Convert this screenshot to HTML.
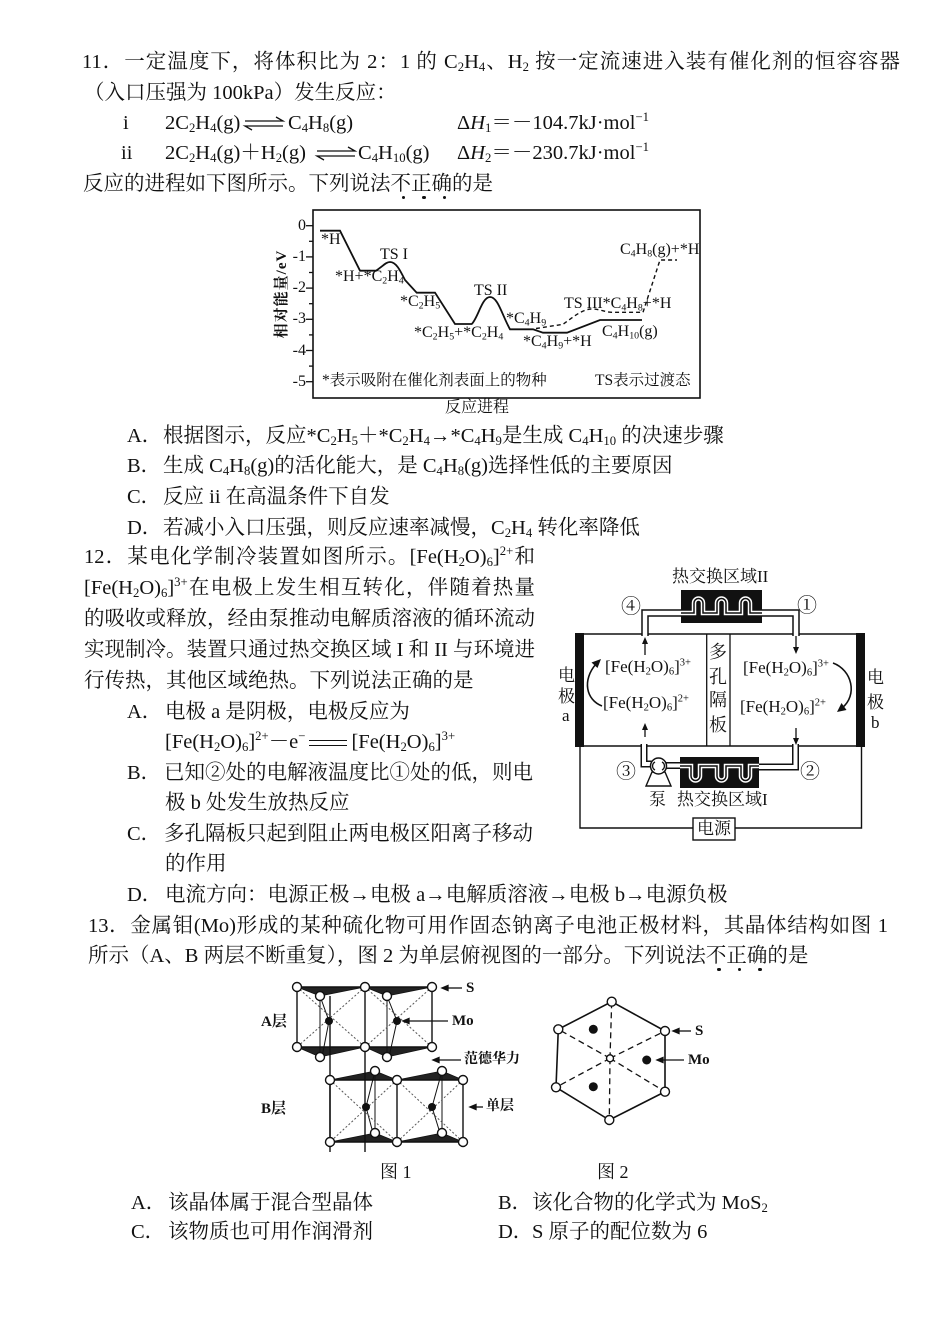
<!DOCTYPE html>
<html><head><meta charset="utf-8">
<style>
body{margin:0;width:950px;height:1344px;position:relative;background:#fff;overflow:hidden;color:#111;font-family:"Liberation Serif","Noto Serif CJK SC",serif;}
.l{position:absolute;height:30px;line-height:30px;white-space:nowrap;font-size:20.5px;}
.j{text-align:justify;text-align-last:justify;white-space:normal;overflow:visible;}
sub{font-size:0.62em;vertical-align:-0.25em;line-height:0;}
sup{font-size:0.62em;vertical-align:0.62em;line-height:0;}
.lb{position:absolute;white-space:nowrap;font-size:16px;line-height:16px;}
.el{position:absolute;white-space:nowrap;font-size:17px;line-height:18px;}
.cn{position:absolute;white-space:nowrap;font-size:20px;line-height:20px;}
.cr{position:absolute;white-space:nowrap;font-size:14px;line-height:16px;font-weight:bold;}
.em{position:relative;}
.em::after{content:"";position:absolute;left:50%;bottom:-4px;width:3.5px;height:3.5px;margin-left:1px;background:#111;border-radius:50%;}
.eq{display:inline-block;width:38px;height:4px;border-top:1.5px solid #111;border-bottom:1.5px solid #111;vertical-align:middle;margin:0 4px;}
.tk{position:absolute;width:22px;text-align:right;font-size:16px;line-height:16px;}
</style></head>
<body>
<svg width="950" height="1344" style="position:absolute;left:0;top:0" xmlns="http://www.w3.org/2000/svg">
<g stroke="#111" stroke-width="1.3" fill="none">
<path d="M245,121 H283 L276,117"/><path d="M283,126 H245 L252,130"/>
<path d="M317,151 H355 L348,147"/><path d="M355,156 H317 L324,160"/>
</g>
<rect x="313" y="210" width="387" height="188" fill="none" stroke="#111" stroke-width="1.6"/>
<g stroke="#111" stroke-width="1.3">
<line x1="306" y1="225.7" x2="313" y2="225.7"/><line x1="306" y1="256.9" x2="313" y2="256.9"/>
<line x1="306" y1="288.1" x2="313" y2="288.1"/><line x1="306" y1="319.3" x2="313" y2="319.3"/>
<line x1="306" y1="350.5" x2="313" y2="350.5"/><line x1="306" y1="381.7" x2="313" y2="381.7"/>
<line x1="309" y1="241.3" x2="313" y2="241.3"/><line x1="309" y1="272.5" x2="313" y2="272.5"/>
<line x1="309" y1="303.7" x2="313" y2="303.7"/><line x1="309" y1="334.9" x2="313" y2="334.9"/>
<line x1="309" y1="366.1" x2="313" y2="366.1"/>
</g>
<path d="M320,230.7 L340,230.7 L360,270.7 L376,270.7 C383,266 386,262 390,262 C396,262 400,270 405,280 L416.7,292.7 L435,292.7 L455,324 L471.7,324 C478,318 482,297 490,297 C498,297 502,315 510,329.3 L533,329.3 L543,332.7 L567,332.7 L600,320 L642,320" fill="none" stroke="#111" stroke-width="1.8"/>
<path d="M536,328.5 L563,324.3 C572,318 582,309 592,309 C600,309 605,312.3 612,312.3 L643,312.3 L660,260 L677,260" fill="none" stroke="#111" stroke-width="1.4" stroke-dasharray="4,3"/>
<rect x="580" y="634" width="281" height="112" fill="none" stroke="#111" stroke-width="1.5"/>
<line x1="706.7" y1="634" x2="706.7" y2="746" stroke="#111" stroke-width="1.3"/>
<line x1="730" y1="634" x2="730" y2="746" stroke="#111" stroke-width="1.3"/>
<rect x="575" y="633" width="9" height="114" fill="#111"/>
<rect x="856" y="633" width="9" height="114" fill="#111"/>
<path d="M580,747 V828 H693 M735,828 H861.5 V747" fill="none" stroke="#111" stroke-width="1.4"/>
<rect x="693" y="818" width="42" height="22" fill="#fff" stroke="#111" stroke-width="1.4"/>
<g fill="none" stroke-linejoin="miter">
<path d="M645,636 V613 H682" stroke="#111" stroke-width="7.5"/>
<path d="M645,636 V613 H682" stroke="#fff" stroke-width="4.5"/>
<path d="M761,613 H796 V636" stroke="#111" stroke-width="7.5"/>
<path d="M761,613 H796 V636" stroke="#fff" stroke-width="4.5"/>
<path d="M644,744 V764 H652" stroke="#111" stroke-width="7"/>
<path d="M644,744 V764 H652" stroke="#fff" stroke-width="4"/>
<path d="M665,765.5 H681" stroke="#111" stroke-width="7"/>
<path d="M665,765.5 H681" stroke="#fff" stroke-width="4"/>
<path d="M758,767 H795.5 V744" stroke="#111" stroke-width="7"/>
<path d="M758,767 H795.5 V744" stroke="#fff" stroke-width="4"/>
</g>
<rect x="681" y="590" width="81" height="33" fill="#111"/>
<path d="M681,613 H694 V603 a4.5,4.5 0 0 1 9,0 V613 H717 V603 a4.5,4.5 0 0 1 9,0 V613 H741 V603 a4.5,4.5 0 0 1 9,0 V613 H762" fill="none" stroke="#fff" stroke-width="4.5"/>
<path d="M681,613 H694 V603 a4.5,4.5 0 0 1 9,0 V613 H717 V603 a4.5,4.5 0 0 1 9,0 V613 H741 V603 a4.5,4.5 0 0 1 9,0 V613 H762" fill="none" stroke="#111" stroke-width="1.5"/>
<rect x="680" y="757" width="79" height="31" fill="#111"/>
<path d="M680,766 H691 V776 a4.5,4.5 0 0 0 9,0 V766 H717 V776 a4.5,4.5 0 0 0 9,0 V766 H741 V776 a4.5,4.5 0 0 0 9,0 V766 H759" fill="none" stroke="#fff" stroke-width="4.5"/>
<path d="M680,766 H691 V776 a4.5,4.5 0 0 0 9,0 V766 H717 V776 a4.5,4.5 0 0 0 9,0 V766 H741 V776 a4.5,4.5 0 0 0 9,0 V766 H759" fill="none" stroke="#111" stroke-width="1.5"/>
<polygon points="652,772 646,786 671,786 665,772" fill="#fff" stroke="#111" stroke-width="1.4"/>
<circle cx="658.5" cy="766" r="8" fill="#fff" stroke="#111" stroke-width="1.5"/>
<path d="M655,762 A4.5,4.5 0 0 0 655,770 M662,762 A4.5,4.5 0 0 1 662,770" fill="none" stroke="#111" stroke-width="1.3"/>
<g stroke="#111" stroke-width="1.3">
<line x1="645" y1="655" x2="645" y2="641"/><line x1="645" y1="737" x2="645" y2="728"/>
<line x1="796" y1="636" x2="796" y2="650"/><line x1="796" y1="728" x2="796" y2="740"/>
</g>
<g fill="#111">
<polygon points="645,637 642,644 648,644"/><polygon points="645,723 642,730 648,730"/>
<polygon points="796,654 793,647 799,647"/><polygon points="796,745 793,738 799,738"/>
</g>
<path d="M602,706 C586,700 582,680 596,664" fill="none" stroke="#111" stroke-width="1.6"/>
<polygon points="601,659 597.5,668 591.5,662.5" fill="#111"/>
<path d="M833,663 C852,670 858,695 842,708" fill="none" stroke="#111" stroke-width="1.6"/>
<polygon points="837,712 846.5,710 841.5,703" fill="#111"/>
<g fill="#222" stroke="#111" stroke-width="0.8">
<polygon points="297,987 320,996 365,987"/><polygon points="365,987 387,996 432,987"/>
<polygon points="297,1047 320,1057 365,1047"/><polygon points="365,1047 387,1057 432,1047"/>
<polygon points="330,1080 375,1071 397,1080"/><polygon points="397,1080 442,1071 463,1080"/>
<polygon points="330,1142 375,1133 397,1142"/><polygon points="397,1142 442,1133 463,1142"/>
</g>
<g stroke="#111" stroke-width="1.4" fill="none">
<path d="M297,987 H432 M297,1047 H432 M297,987 V1047 M365,987 V1047 M432,987 V1047"/>
<path d="M330,1080 H463 M330,1142 H463 M330,1080 V1142 M397,1080 V1142 M463,1080 V1142"/>
<path d="M330,996 V1152 M365,1047 V1152"/>
</g>
<g stroke="#111" stroke-width="1" fill="none">
<path d="M320,996 V1057 M387,996 V1057 M375,1071 V1133 M442,1071 V1133"/>
<path d="M320,996 L329,1021 L322,1057 M387,996 L397,1021 L389,1057"/>
<path d="M375,1071 L366,1107 L373,1133 M442,1071 L432,1107 L440,1133"/>
</g>
<g stroke="#555" stroke-width="1" stroke-dasharray="2,2" fill="none">
<path d="M297,987 L365,1047 M365,987 L297,1047 M365,987 L432,1047 M432,987 L365,1047"/>
<path d="M330,1080 L397,1142 M397,1080 L330,1142 M397,1080 L463,1142 M463,1080 L397,1142"/>
</g>
<g fill="#fff" stroke="#111" stroke-width="1.4">
<circle cx="297" cy="987" r="4.5"/><circle cx="365" cy="987" r="4.5"/><circle cx="432" cy="987" r="4.5"/>
<circle cx="320" cy="996" r="4.5"/><circle cx="387" cy="996" r="4.5"/>
<circle cx="297" cy="1047" r="4.5"/><circle cx="365" cy="1047" r="4.5"/><circle cx="432" cy="1047" r="4.5"/>
<circle cx="320" cy="1057" r="4.5"/><circle cx="387" cy="1057" r="4.5"/>
<circle cx="330" cy="1080" r="4.5"/><circle cx="397" cy="1080" r="4.5"/><circle cx="463" cy="1080" r="4.5"/>
<circle cx="375" cy="1071" r="4.5"/><circle cx="442" cy="1071" r="4.5"/>
<circle cx="330" cy="1142" r="4.5"/><circle cx="397" cy="1142" r="4.5"/><circle cx="463" cy="1142" r="4.5"/>
<circle cx="375" cy="1133" r="4.5"/><circle cx="442" cy="1133" r="4.5"/>
</g>
<g fill="#111">
<circle cx="329" cy="1021" r="4"/><circle cx="397" cy="1021" r="4"/>
<circle cx="366" cy="1107" r="4"/><circle cx="432" cy="1107" r="4"/>
</g>
<g stroke="#111" stroke-width="1.3" fill="#111">
<line x1="446" y1="988" x2="462" y2="988"/><polygon points="442,988 448,985.5 448,990.5"/>
<line x1="407" y1="1021" x2="448" y2="1021"/><polygon points="403,1021 409,1018.5 409,1023.5"/>
<line x1="437" y1="1060" x2="461" y2="1060"/><polygon points="433,1060 439,1057.5 439,1062.5"/>
<line x1="474" y1="1107" x2="483" y2="1107"/><polygon points="470,1107 476,1104.5 476,1109.5"/>
<line x1="677" y1="1031" x2="691" y2="1031"/><polygon points="673,1031 679,1028.5 679,1033.5"/>
<line x1="661" y1="1060" x2="684" y2="1060"/><polygon points="657,1060 663,1057.5 663,1062.5"/>
</g>
<polygon points="611.7,1001.7 665,1031 665,1091.7 609.3,1120 556,1087.3 558.3,1029.3" fill="none" stroke="#111" stroke-width="1.6"/>
<g stroke="#111" stroke-width="1.3" stroke-dasharray="6,4">
<line x1="610" y1="1058.3" x2="611.7" y2="1001.7"/><line x1="610" y1="1058.3" x2="665" y2="1031"/>
<line x1="610" y1="1058.3" x2="665" y2="1091.7"/><line x1="610" y1="1058.3" x2="609.3" y2="1120"/>
<line x1="610" y1="1058.3" x2="556" y2="1087.3"/><line x1="610" y1="1058.3" x2="558.3" y2="1029.3"/>
</g>
<g fill="#fff" stroke="#111" stroke-width="1.4">
<circle cx="611.7" cy="1001.7" r="4.5"/><circle cx="665" cy="1031" r="4.5"/><circle cx="665" cy="1091.7" r="4.5"/>
<circle cx="609.3" cy="1120" r="4.5"/><circle cx="556" cy="1087.3" r="4.5"/><circle cx="558.3" cy="1029.3" r="4.5"/>
<circle cx="610" cy="1058.3" r="3.5"/>
</g>
<g fill="#111">
<circle cx="593.3" cy="1029.3" r="4.5"/><circle cx="646.7" cy="1060" r="4.5"/><circle cx="593.3" cy="1086.7" r="4.5"/>
</g>
</svg>

<div class="l j" style="top:47px;left:82px;width:818px">11．一定温度下，将体积比为 2：1 的 C<sub>2</sub>H<sub>4</sub>、H<sub>2</sub> 按一定流速进入装有催化剂的恒容容器</div>
<div class="l" style="top:78px;left:84px">（入口压强为 100kPa）发生反应：</div>
<div class="l" style="top:108px;left:123px">i</div>
<div class="l" style="top:108px;left:165px">2C<sub>2</sub>H<sub>4</sub>(g)</div>
<div class="l" style="top:108px;left:288px">C<sub>4</sub>H<sub>8</sub>(g)</div>
<div class="l" style="top:108px;left:457px">Δ<i>H</i><sub>1</sub>＝－104.7kJ·mol<sup>−1</sup></div>
<div class="l" style="top:138px;left:121px">ii</div>
<div class="l" style="top:138px;left:165px">2C<sub>2</sub>H<sub>4</sub>(g)＋H<sub>2</sub>(g)</div>
<div class="l" style="top:138px;left:358px">C<sub>4</sub>H<sub>10</sub>(g)</div>
<div class="l" style="top:138px;left:457px">Δ<i>H</i><sub>2</sub>＝－230.7kJ·mol<sup>−1</sup></div>
<div class="l" style="top:169px;left:83px">反应的进程如下图所示。下列说法<span class="em">不</span><span class="em">正</span><span class="em">确</span>的是</div>

<div class="tk" style="left:284px;top:218px">0</div>
<div class="tk" style="left:284px;top:249px">-1</div>
<div class="tk" style="left:284px;top:280px">-2</div>
<div class="tk" style="left:284px;top:311px">-3</div>
<div class="tk" style="left:284px;top:343px">-4</div>
<div class="tk" style="left:284px;top:374px">-5</div>
<div class="lb" style="left:282px;top:294px;transform:translate(-50%,-50%) rotate(-90deg);font-weight:bold;letter-spacing:1px;font-size:15px">相对能量/eV</div>
<div class="lb" style="left:321px;top:232px">*H</div>
<div class="lb" style="left:380px;top:247px">TS I</div>
<div class="lb" style="left:335px;top:269px">*H+*C<sub>2</sub>H<sub>4</sub></div>
<div class="lb" style="left:400px;top:294px">*C<sub>2</sub>H<sub>5</sub></div>
<div class="lb" style="left:474px;top:283px">TS II</div>
<div class="lb" style="left:414px;top:325px">*C<sub>2</sub>H<sub>5</sub>+*C<sub>2</sub>H<sub>4</sub></div>
<div class="lb" style="left:506px;top:311px">*C<sub>4</sub>H<sub>9</sub></div>
<div class="lb" style="left:523px;top:334px">*C<sub>4</sub>H<sub>9</sub>+*H</div>
<div class="lb" style="left:564px;top:296px">TS III*C<sub>4</sub>H<sub>8</sub>+*H</div>
<div class="lb" style="left:620px;top:242px">C<sub>4</sub>H<sub>8</sub>(g)+*H</div>
<div class="lb" style="left:602px;top:324px">C<sub>4</sub>H<sub>10</sub>(g)</div>
<div class="lb" style="left:322px;top:373px;font-size:15.5px">*表示吸附在催化剂表面上的物种</div>
<div class="lb" style="left:595px;top:373px;font-size:15.5px">TS表示过渡态</div>
<div class="lb" style="left:445px;top:400px;font-size:16px">反应进程</div>

<div class="l" style="top:421px;left:127px">A．</div>
<div class="l" style="top:421px;left:163px">根据图示，反应*C<sub>2</sub>H<sub>5</sub>＋*C<sub>2</sub>H<sub>4</sub>→*C<sub>4</sub>H<sub>9</sub>是生成 C<sub>4</sub>H<sub>10</sub> 的决速步骤</div>
<div class="l" style="top:451px;left:127px">B．</div>
<div class="l" style="top:451px;left:163px">生成 C<sub>4</sub>H<sub>8</sub>(g)的活化能大，是 C<sub>4</sub>H<sub>8</sub>(g)选择性低的主要原因</div>
<div class="l" style="top:482px;left:127px">C．</div>
<div class="l" style="top:482px;left:163px">反应 ii 在高温条件下自发</div>
<div class="l" style="top:513px;left:127px">D．</div>
<div class="l" style="top:513px;left:163px">若减小入口压强，则反应速率减慢，C<sub>2</sub>H<sub>4</sub> 转化率降低</div>

<div class="l j" style="top:542px;left:84px;width:451px">12．某电化学制冷装置如图所示。[Fe(H<sub>2</sub>O)<sub>6</sub>]<sup>2+</sup>和</div>
<div class="l j" style="top:573px;left:84px;width:451px">[Fe(H<sub>2</sub>O)<sub>6</sub>]<sup>3+</sup>在电极上发生相互转化，伴随着热量</div>
<div class="l j" style="top:604px;left:84px;width:451px">的吸收或释放，经由泵推动电解质溶液的循环流动</div>
<div class="l j" style="top:635px;left:84px;width:451px">实现制冷。装置只通过热交换区域 I 和 II 与环境进</div>
<div class="l" style="top:666px;left:84px">行传热，其他区域绝热。下列说法正确的是</div>
<div class="l" style="top:697px;left:127px">A．</div>
<div class="l" style="top:697px;left:165px">电极 a 是阴极，电极反应为</div>
<div class="l" style="top:727px;left:165px">[Fe(H<sub>2</sub>O)<sub>6</sub>]<sup>2+</sup>－e<sup>−</sup><span class="eq"></span>[Fe(H<sub>2</sub>O)<sub>6</sub>]<sup>3+</sup></div>
<div class="l" style="top:758px;left:127px">B．</div>
<div class="l" style="top:758px;left:164px">已知②处的电解液温度比①处的低，则电</div>
<div class="l" style="top:788px;left:165px">极 b 处发生放热反应</div>
<div class="l" style="top:819px;left:127px">C．</div>
<div class="l" style="top:819px;left:164px">多孔隔板只起到阻止两电极区阳离子移动</div>
<div class="l" style="top:849px;left:165px">的作用</div>
<div class="l" style="top:880px;left:127px">D．</div>
<div class="l" style="top:880px;left:165px">电流方向：电源正极→电极 a→电解质溶液→电极 b→电源负极</div>

<div class="el" style="left:672px;top:568px">热交换区域II</div>
<div class="cn" style="left:621px;top:597px">④</div>
<div class="cn" style="left:797px;top:596px">①</div>
<div class="cn" style="left:616px;top:762px">③</div>
<div class="cn" style="left:800px;top:762px">②</div>
<div class="el" style="left:605px;top:658px">[Fe(H<sub>2</sub>O)<sub>6</sub>]<sup>3+</sup></div>
<div class="el" style="left:603px;top:694px">[Fe(H<sub>2</sub>O)<sub>6</sub>]<sup>2+</sup></div>
<div class="el" style="left:743px;top:659px">[Fe(H<sub>2</sub>O)<sub>6</sub>]<sup>3+</sup></div>
<div class="el" style="left:740px;top:698px">[Fe(H<sub>2</sub>O)<sub>6</sub>]<sup>2+</sup></div>
<div class="el" style="left:709px;top:643px;font-size:18px">多</div>
<div class="el" style="left:709px;top:668px;font-size:18px">孔</div>
<div class="el" style="left:709px;top:691px;font-size:18px">隔</div>
<div class="el" style="left:709px;top:716px;font-size:18px">板</div>
<div class="el" style="left:558px;top:667px">电</div>
<div class="el" style="left:558px;top:688px">极</div>
<div class="el" style="left:562px;top:707px">a</div>
<div class="el" style="left:867px;top:669px">电</div>
<div class="el" style="left:867px;top:694px">极</div>
<div class="el" style="left:871px;top:714px">b</div>
<div class="el" style="left:649px;top:791px">泵</div>
<div class="el" style="left:677px;top:791px">热交换区域I</div>
<div class="el" style="left:697px;top:820px">电源</div>

<div class="l j" style="top:911px;left:88px;width:800px">13．金属钼(Mo)形成的某种硫化物可用作固态钠离子电池正极材料，其晶体结构如图 1</div>
<div class="l" style="top:941px;left:88px">所示（A、B 两层不断重复），图 2 为单层俯视图的一部分。下列说法<span class="em">不</span><span class="em">正</span><span class="em">确</span>的是</div>

<div class="cr" style="left:261px;top:1014px;font-size:15px">A层</div>
<div class="cr" style="left:261px;top:1101px;font-size:15px">B层</div>
<div class="cr" style="left:466px;top:980px;font-size:15px">S</div>
<div class="cr" style="left:452px;top:1013px;font-size:15px">Mo</div>
<div class="cr" style="left:464px;top:1052px">范德华力</div>
<div class="cr" style="left:486px;top:1099px">单层</div>
<div class="cr" style="left:695px;top:1023px;font-size:15px">S</div>
<div class="cr" style="left:688px;top:1052px;font-size:15px">Mo</div>
<div class="el" style="left:380px;top:1163px;font-size:18px">图 1</div>
<div class="el" style="left:597px;top:1163px;font-size:18px">图 2</div>

<div class="l" style="top:1188px;left:131px">A．</div>
<div class="l" style="top:1188px;left:168px">该晶体属于混合型晶体</div>
<div class="l" style="top:1188px;left:498px">B．</div>
<div class="l" style="top:1188px;left:532px">该化合物的化学式为 MoS<sub>2</sub></div>
<div class="l" style="top:1217px;left:131px">C．</div>
<div class="l" style="top:1217px;left:168px">该物质也可用作润滑剂</div>
<div class="l" style="top:1217px;left:498px">D．</div>
<div class="l" style="top:1217px;left:532px">S 原子的配位数为 6</div>
</body></html>
